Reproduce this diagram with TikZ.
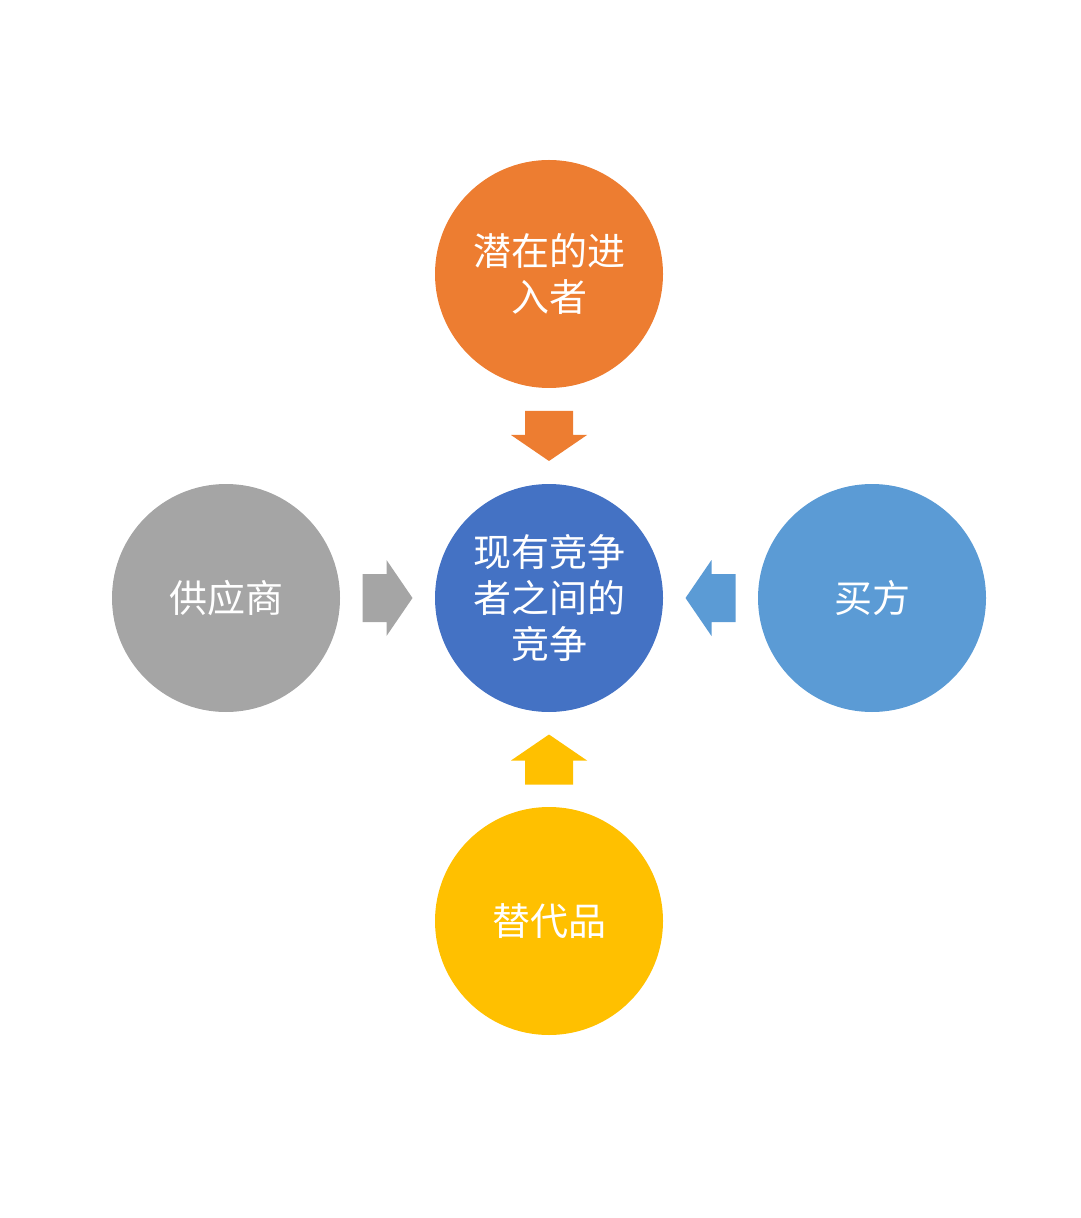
\documentclass[tikz,border=0pt]{standalone}
\usepackage{fontspec}
\newfontfamily\cjk{Noto Sans CJK SC}
\usetikzlibrary{calc}

\definecolor{entrantorange}{HTML}{ED7D31}
\definecolor{rivalblue}{HTML}{4472C4}
\definecolor{suppliergray}{HTML}{A5A5A5}
\definecolor{buyerblue}{HTML}{5B9BD5}
\definecolor{substyellow}{HTML}{FFC000}

\tikzset{
force/.style={circle, fill=#1, minimum size=114pt, inner sep=0pt,
  text=white, align=center, font=\cjk\fontsize{19}{23}\selectfont}
}

% block arrow: colour, centre, direction
\newcommand{\blockarrow}[3]{
\fill [#1, shift={(#2)}, rotate=#3]
  (-25,-24) -- (-1,-24) -- (-1,-38) -- (25,0) -- (-1,38) -- (-1,24) -- (-25,24) -- cycle;
}

\begin{document}
\begin{tikzpicture}[x=0.5pt,y=-0.5pt]
\useasboundingbox (0,0) rectangle (1080,1218);

%CIRCLES
\node [force=rivalblue] (rival) at (549,598) {现有竞争\\者之间的\\竞争};
\node [force=entrantorange] (entrant) at (549,274) {潜在的进\\入者};
\node [force=suppliergray] (supplier) at (226,598) {供应商};
\node [force=buyerblue] (buyer) at (872,598) {买方};
\node [force=substyellow] (subst) at (549,921) {替代品};

%Arrows
\coordinate (a1) at ($(entrant)!0.5!(rival)$);
\coordinate (a2) at ($(supplier)!0.5!(rival)$);
\coordinate (a3) at ($(buyer)!0.5!(rival)$);
\coordinate (a4) at ($(subst)!0.5!(rival)$);
\blockarrow{entrantorange}{a1}{-90}
\blockarrow{suppliergray}{a2}{0}
\blockarrow{buyerblue}{a3}{180}
\blockarrow{substyellow}{a4}{90}

\end{tikzpicture}
\end{document}
